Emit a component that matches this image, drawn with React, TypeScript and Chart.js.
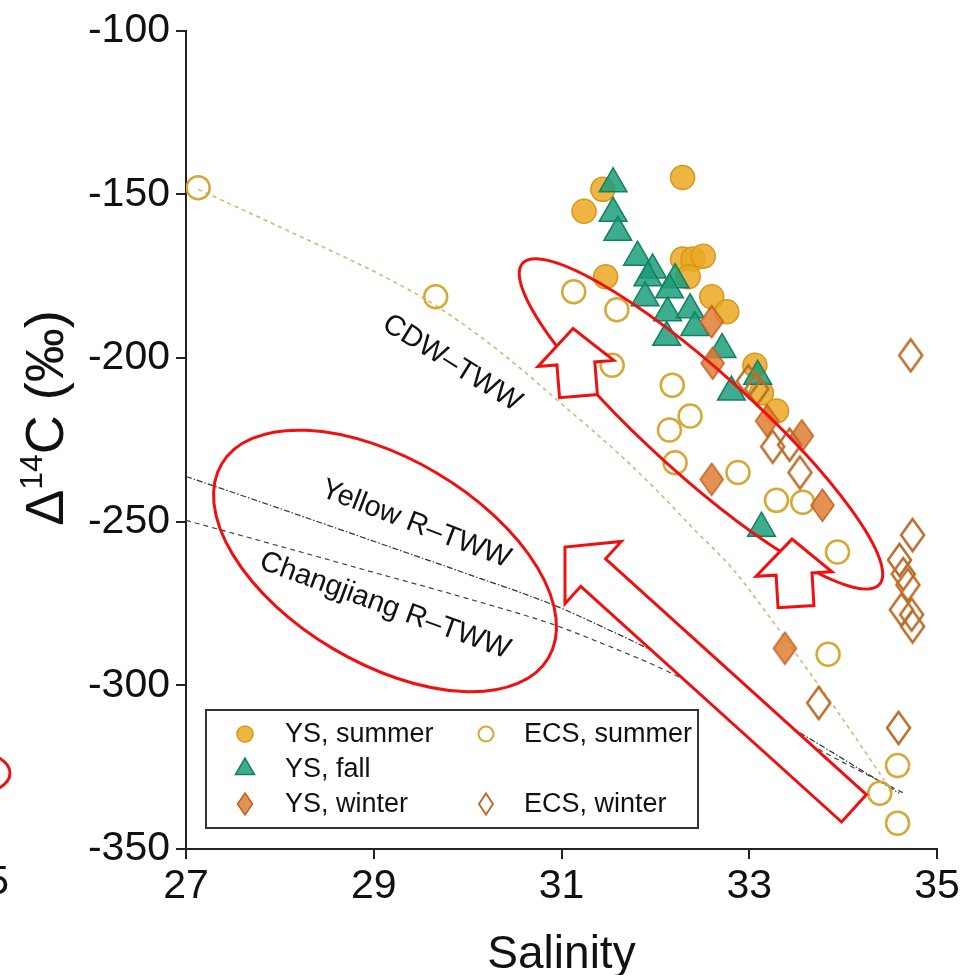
import React, { useEffect, useRef } from 'react';
import { Chart, registerables } from 'chart.js';
Chart.register(...registerables);

// ---------- data (salinity, Δ14C ‰) ----------
const X_TICK_STEP = 2;
const Y_TICK_STEP = 50;
const X_MIN = 27, X_MAX = 35, Y_MIN = -350, Y_MAX = -100;

const ysSummerSal = [31.44, 31.24, 32.29, 31.47, 32.29, 32.40, 32.51, 32.35, 32.60, 32.76, 33.06, 33.13, 33.29];
const ysSummerD14C = [-148.5, -155.2, -144.9, -175.2, -169.8, -169.8, -168.9, -175.2, -181.3, -185.9, -202.2, -210.7, -216.2];

const ysFallSal = [31.55, 31.55, 31.60, 31.81, 31.97, 31.92, 32.21, 31.89, 32.15, 32.13, 32.37, 32.42, 32.12, 32.71, 32.81, 33.09, 33.13];
const ysFallD14C = [-146.8, -155.8, -161.6, -169.2, -173.1, -175.5, -176.1, -181.6, -179.2, -186.2, -185.3, -190.7, -193.7, -197.4, -210.4, -205.6, -252.0];

const ysWinterSal = [32.60, 32.61, 33.19, 33.56, 32.60, 33.78, 33.38];
const ysWinterD14C = [-188.9, -201.6, -219.2, -223.8, -237.1, -245.0, -288.7];

const ecsSummerSal = [27.13, 29.66, 31.13, 31.59, 31.54, 32.18, 32.37, 32.15, 32.21, 32.88, 33.29, 33.57, 33.94, 33.84, 34.58, 34.39, 34.58];
const ecsSummerD14C = [-148.0, -181.3, -179.8, -185.3, -202.2, -208.3, -217.7, -222.0, -232.0, -235.0, -243.5, -244.1, -259.3, -290.5, -324.5, -333.0, -342.1];

const ecsWinterSal = [34.72, 32.99, 33.08, 33.25, 33.43, 33.54, 34.74, 34.60, 34.64, 34.69, 34.62, 34.73, 34.74, 33.74, 34.59];
const ecsWinterD14C = [-199.2, -207.1, -209.5, -227.1, -226.5, -235.0, -254.1, -261.7, -266.0, -269.3, -276.9, -278.4, -282.0, -305.4, -313.0];

// mixing lines
const cdwSal = [27.13, 28.0, 29.1, 29.66, 30.34, 31.0, 31.6, 32.0, 32.4, 32.81, 33.2, 33.54, 34.0, 34.44];
const cdwD14C = [-148.5, -160, -175, -184, -198, -214, -229, -240, -252, -264, -278.5, -292, -310.5, -329];

const yellowSal = [27.0, 28.0, 29.0, 30.0, 30.91, 31.5, 32.0, 32.5, 33.0, 33.36, 33.8, 34.2, 34.6];
const yellowD14C = [-236.2, -246, -256, -266, -275.4, -283, -290, -298.5, -306, -311.5, -319, -326, -333];

const changSal = [27.0, 28.0, 29.0, 30.0, 30.91, 31.5, 32.0, 32.5, 33.0, 33.36, 33.8, 34.2, 34.65];
const changD14C = [-249.6, -257.5, -265.5, -273.5, -281.4, -288, -294, -301, -308.5, -313.5, -320.5, -326.5, -333];

const seriesLabels = ['YS, summer', 'YS, fall', 'YS, winter', 'ECS, summer', 'ECS, winter'];
const lineLabels = ['CDW\u2013TWW', 'Yellow R\u2013TWW', 'Changjiang R\u2013TWW'];
// label anchors (data units) and angles (deg)
const lineLabelSal = [29.834, 29.45, 29.12];
const lineLabelD14C = [-201.6, -250.8, -275.7];
const lineLabelAngle = [32, 21, 20];

// red annotations (anchors in data units)
const ellipseSal = [32.486, 29.12];
const ellipseD14C = [-220.15, -262.01];
const arrowTipSal = [31.123, 33.455, 31.037];
const arrowTipD14C = [-191.02, -255.34, -257.77];
const arrowTailSal = [31.181, 33.498, 34.116];
const arrowTailD14C = [-211.65, -275.97, -337.56];

const FONT = 'Liberation Sans, Arial, Helvetica, sans-serif';

const C_YS_SUM_FILL = 'rgba(236,168,34,0.85)';
const C_YS_SUM_LINE = 'rgb(214,152,28)';
const C_FALL_FILL = 'rgba(28,158,122,0.85)';
const C_FALL_LINE = 'rgb(18,128,98)';
const C_WIN_FILL = 'rgba(224,126,52,0.85)';
const C_WIN_LINE = 'rgb(188,98,38)';
const C_ECS_SUM = 'rgb(214,168,52)';
const C_ECS_WIN = 'rgb(186,110,44)';

const pts = (xs: number[], ys: number[]) => xs.map((x, i) => ({ x, y: ys[i] }));

function diamondPath(ctx: CanvasRenderingContext2D, x: number, y: number, hw: number, hh: number) {
  ctx.beginPath();
  ctx.moveTo(x, y - hh);
  ctx.lineTo(x + hw, y);
  ctx.lineTo(x, y + hh);
  ctx.lineTo(x - hw, y);
  ctx.closePath();
}

function makeDiamond(hw: number, hh: number, fill: string | null, stroke: string, lw: number) {
  const c = document.createElement('canvas');
  const pad = Math.ceil(lw) + 1;
  c.width = Math.ceil(2 * hw + 2 * pad);
  c.height = Math.ceil(2 * hh + 2 * pad);
  const g = c.getContext('2d')!;
  diamondPath(g, c.width / 2, c.height / 2, hw, hh);
  if (fill) { g.fillStyle = fill; g.fill(); }
  g.lineWidth = lw; g.strokeStyle = stroke; g.lineJoin = 'miter'; g.stroke();
  return c;
}

function drawArrow(ctx: CanvasRenderingContext2D, tx: number, ty: number, px: number, py: number,
  headLen: number, headHW: number, shaftHW: number) {
  const dx = px - tx, dy = py - ty;
  const L = Math.hypot(dx, dy);
  const ux = dx / L, uy = dy / L;
  const nx = -uy, ny = ux;
  const bx = px - ux * headLen, by = py - uy * headLen;
  ctx.beginPath();
  ctx.moveTo(tx + nx * shaftHW, ty + ny * shaftHW);
  ctx.lineTo(bx + nx * shaftHW, by + ny * shaftHW);
  ctx.lineTo(bx + nx * headHW, by + ny * headHW);
  ctx.lineTo(px, py);
  ctx.lineTo(bx - nx * headHW, by - ny * headHW);
  ctx.lineTo(bx - nx * shaftHW, by - ny * shaftHW);
  ctx.lineTo(tx - nx * shaftHW, ty - ny * shaftHW);
  ctx.closePath();
  ctx.fillStyle = '#ffffff';
  ctx.fill();
  ctx.lineWidth = 3;
  ctx.strokeStyle = '#f01010';
  ctx.lineJoin = 'miter';
  ctx.stroke();
}

const overlayPlugin = {
  id: 'overlay',
  afterDraw(chart: any) {
    const ctx: CanvasRenderingContext2D = chart.ctx;
    const xs = chart.scales.x, ys = chart.scales.y;
    const X = (v: number) => xs.getPixelForValue(v);
    const Y = (v: number) => ys.getPixelForValue(v);
    const area = chart.chartArea;

    ctx.save();
    // ---- mixing line labels ----
    ctx.fillStyle = '#111';
    ctx.font = `29px ${FONT}`;
    ctx.textAlign = 'center';
    ctx.textBaseline = 'middle';
    lineLabels.forEach((t, i) => {
      ctx.save();
      ctx.translate(X(lineLabelSal[i]), Y(lineLabelD14C[i]));
      ctx.rotate((lineLabelAngle[i] * Math.PI) / 180);
      ctx.fillText(t, 0, 0);
      ctx.restore();
    });

    // ---- legend ----
    const lx = 206, ly = 710, lw = 492, lh = 118;
    ctx.fillStyle = '#fff';
    ctx.fillRect(lx, ly, lw, lh);
    ctx.lineWidth = 2;
    ctx.strokeStyle = '#333';
    ctx.strokeRect(lx, ly, lw, lh);
    const rows = [734, 769, 804];
    const mx1 = 245, tx1 = 285, mx2 = 486, tx2 = 524;
    ctx.font = `27px ${FONT}`;
    ctx.textAlign = 'left';
    ctx.textBaseline = 'middle';
    ctx.fillStyle = '#111';
    ctx.fillText(seriesLabels[0], tx1, rows[0] + 1);
    ctx.fillText(seriesLabels[1], tx1, rows[1] + 1);
    ctx.fillText(seriesLabels[2], tx1, rows[2] + 1);
    ctx.fillText(seriesLabels[3], tx2, rows[0] + 1);
    ctx.fillText(seriesLabels[4], tx2, rows[2] + 1);
    // markers
    ctx.beginPath(); ctx.arc(mx1, rows[0], 8, 0, Math.PI * 2);
    ctx.fillStyle = C_YS_SUM_FILL; ctx.fill(); ctx.lineWidth = 1.5; ctx.strokeStyle = C_YS_SUM_LINE; ctx.stroke();
    ctx.beginPath();
    const tr = 11;
    ctx.moveTo(mx1, rows[1] - tr);
    ctx.lineTo(mx1 + tr * Math.sin(2 * Math.PI / 3), rows[1] + tr * 0.5);
    ctx.lineTo(mx1 - tr * Math.sin(2 * Math.PI / 3), rows[1] + tr * 0.5);
    ctx.closePath();
    ctx.fillStyle = C_FALL_FILL; ctx.fill(); ctx.strokeStyle = C_FALL_LINE; ctx.stroke();
    diamondPath(ctx, mx1, rows[2], 7.5, 11);
    ctx.fillStyle = C_WIN_FILL; ctx.fill(); ctx.strokeStyle = C_WIN_LINE; ctx.stroke();
    ctx.beginPath(); ctx.arc(mx2, rows[0], 7.5, 0, Math.PI * 2);
    ctx.lineWidth = 2; ctx.strokeStyle = C_ECS_SUM; ctx.stroke();
    diamondPath(ctx, mx2, rows[2], 7, 10.5);
    ctx.lineWidth = 2; ctx.strokeStyle = C_ECS_WIN; ctx.stroke();

    // ---- axis titles ----
    ctx.fillStyle = '#111';
    ctx.font = `46px ${FONT}`;
    ctx.textAlign = 'center';
    ctx.textBaseline = 'alphabetic';
    ctx.fillText('Salinity', (area.left + area.right) / 2, 968);

    ctx.save();
    ctx.translate(45, 418);
    ctx.rotate(-Math.PI / 2);
    const bigF = `54px ${FONT}`, supF = `32px ${FONT}`;
    ctx.font = bigF; const w1 = ctx.measureText('\u0394').width;
    ctx.font = supF; const w2 = ctx.measureText('14').width;
    ctx.font = bigF; const w3 = ctx.measureText('C (\u2030)').width;
    const total = w1 + w2 + w3;
    let cx = -total / 2;
    ctx.textAlign = 'left';
    ctx.font = bigF; ctx.fillText('\u0394', cx, 18); cx += w1;
    ctx.font = supF; ctx.fillText('14', cx, -3); cx += w2;
    ctx.font = bigF; ctx.fillText('C (\u2030)', cx, 18);
    ctx.restore();

    // ---- red annotations ----
    ctx.lineWidth = 3;
    ctx.strokeStyle = '#f01010';
    const ell = [
      { a: 240, b: 52, ang: 42 },
      { a: 190, b: 102, ang: 30.7 },
    ];
    ell.forEach((e, i) => {
      ctx.beginPath();
      ctx.ellipse(X(ellipseSal[i]), Y(ellipseD14C[i]), e.a, e.b, (e.ang * Math.PI) / 180, 0, Math.PI * 2);
      ctx.stroke();
    });
    const arr = [
      { hl: 35, hw: 38, sw: 19 },
      { hl: 35, hw: 38, sw: 18 },
      { hl: 38, hw: 42, sw: 18.5 },
    ];
    arr.forEach((a, i) => {
      drawArrow(ctx, X(arrowTailSal[i]), Y(arrowTailD14C[i]), X(arrowTipSal[i]), Y(arrowTipD14C[i]), a.hl, a.hw, a.sw);
    });

    // ---- cropped remnants of neighbouring panel at left edge ----
    ctx.fillStyle = '#111';
    ctx.font = `41px ${FONT}`;
    ctx.textAlign = 'right';
    ctx.textBaseline = 'middle';
    ctx.fillText('35', 9, 883);
    ctx.beginPath();
    ctx.ellipse(-30, 773, 40, 22, 0, 0, Math.PI * 2);
    ctx.lineWidth = 3; ctx.strokeStyle = '#f01010'; ctx.stroke();
    ctx.restore();
  },
};

export default function App() {
  const ref = useRef<HTMLCanvasElement>(null);
  useEffect(() => {
    const canvas = ref.current!;
    const diaFilled = makeDiamond(11.5, 16, C_WIN_FILL, C_WIN_LINE, 1.5);
    const diaOpen = makeDiamond(11.5, 16, null, C_ECS_WIN, 2.5);

    const chart = new Chart(canvas, {
      type: 'scatter',
      data: {
        datasets: [
          {
            label: lineLabels[0], data: pts(cdwSal, cdwD14C), showLine: true, pointRadius: 0,
            borderColor: 'rgb(205,185,115)', borderWidth: 1.6, borderDash: [4, 4], cubicInterpolationMode: 'monotone', order: 10,
          } as any,
          {
            label: lineLabels[1], data: pts(yellowSal, yellowD14C), showLine: true, pointRadius: 0,
            borderColor: '#333', borderWidth: 1.2, borderDash: [6, 2, 1.5, 2], cubicInterpolationMode: 'monotone', order: 11,
          },
          {
            label: lineLabels[2], data: pts(changSal, changD14C), showLine: true, pointRadius: 0,
            borderColor: '#444', borderWidth: 1.2, borderDash: [5, 4], cubicInterpolationMode: 'monotone', order: 12,
          },
          {
            label: seriesLabels[0], data: pts(ysSummerSal, ysSummerD14C), pointStyle: 'circle', pointRadius: 12,
            backgroundColor: C_YS_SUM_FILL, borderColor: C_YS_SUM_LINE, borderWidth: 1.5, order: 5,
          },
          {
            label: seriesLabels[3], data: pts(ecsSummerSal, ecsSummerD14C), pointStyle: 'circle', pointRadius: 11.5,
            backgroundColor: 'rgba(0,0,0,0)', borderColor: C_ECS_SUM, borderWidth: 2.5, order: 4,
          },
          {
            label: seriesLabels[1], data: pts(ysFallSal, ysFallD14C), pointStyle: 'triangle', pointRadius: 16,
            backgroundColor: C_FALL_FILL, borderColor: C_FALL_LINE, borderWidth: 1.5, order: 3,
          },
          {
            label: seriesLabels[2], data: pts(ysWinterSal, ysWinterD14C), pointStyle: diaFilled as any, pointRadius: 16,
            backgroundColor: C_WIN_FILL, borderColor: C_WIN_LINE, order: 2,
          },
          {
            label: seriesLabels[4], data: pts(ecsWinterSal, ecsWinterD14C), pointStyle: diaOpen as any, pointRadius: 16,
            backgroundColor: 'rgba(0,0,0,0)', borderColor: C_ECS_WIN, order: 1,
          },
        ],
      },
      options: {
        responsive: false,
        animation: false,
        devicePixelRatio: 1,
        layout: { padding: { left: 0, right: 30, top: 25, bottom: 0 } },
        plugins: { legend: { display: false }, tooltip: { enabled: false } },
        scales: {
          x: {
            type: 'linear', min: X_MIN, max: X_MAX,
            ticks: { stepSize: X_TICK_STEP, color: '#111', font: { family: FONT, size: 41 }, padding: 3, callback: (v: any) => String(v) },
            grid: { display: true, drawOnChartArea: false, drawTicks: true, tickLength: 10, color: '#222', lineWidth: 2 },
            border: { display: true, color: '#222', width: 2 },
            afterFit: (s: any) => { s.height = 126; },
          },
          y: {
            type: 'linear', min: Y_MIN, max: Y_MAX,
            ticks: { stepSize: Y_TICK_STEP, color: '#111', font: { family: FONT, size: 41 }, padding: 6, callback: (v: any) => String(v) },
            grid: { display: true, drawOnChartArea: false, drawTicks: true, tickLength: 10, color: '#222', lineWidth: 2 },
            border: { display: true, color: '#222', width: 2 },
            afterFit: (s: any) => { s.width = 186; },
          },
        },
      } as any,
      plugins: [overlayPlugin],
    });
    return () => chart.destroy();
  }, []);
  return (
    <div style={{ position: 'absolute', left: 0, top: 0, width: 967, height: 975, background: '#fff' }}>
      <canvas ref={ref} width={967} height={975} style={{ display: 'block', width: 967, height: 975 }} />
    </div>
  );
}
